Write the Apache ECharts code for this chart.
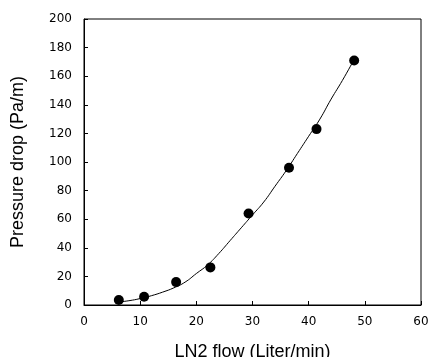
<!DOCTYPE html>
<html>
<head>
<meta charset="utf-8">
<script src="https://cdn.jsdelivr.net/npm/echarts@6/dist/echarts.min.js"></script>
<style>
  html, body { margin: 0; padding: 0; background: #fff; }
  #chart { width: 430px; height: 357px; }
</style>
</head>
<body>
<div id="chart"></div>
<script>
// measured points
var flow = [6.2, 10.7, 16.4, 22.5, 29.3, 36.5, 41.4, 48.1]
var pressure = [3.5, 5.8, 16, 26.3, 64, 96, 123, 171]

// fitted curve
var fitFlow = [6, 8, 10, 12, 14, 16, 18, 20, 22, 24, 26, 28, 30, 32, 34, 36, 38, 40, 42, 44, 46, 48]
var fitPressure = [2, 3, 4.5, 6.5, 9, 12, 16, 22, 28, 36, 45, 54, 63, 72, 83, 94, 106, 118, 130, 144, 157, 171]

var chart = echarts.init(document.getElementById('chart'))

var font = 'Liberation Sans, Arial, sans-serif'
var tickFont = 'DejaVu Sans, sans-serif'

var option = {
  animation: false,
  grid: {
    left: 84,
    top: 19,
    right: 9,
    bottom: 52,
    outerBoundsMode: 'none',
    show: true,
    borderColor: '#000',
    borderWidth: 1,
  },
  xAxis: {
    type: 'value',
    min: 0,
    max: 60,
    interval: 10,
    name: 'LN2 flow (Liter/min)',
    nameLocation: 'middle',
    nameGap: 38,
    nameTextStyle: { color: '#000', fontSize: 18, fontFamily: font },
    axisLine: { lineStyle: { color: '#000', width: 1 } },
    axisTick: { inside: true, length: 4, lineStyle: { color: '#000' } },
    axisLabel: { color: '#000', fontSize: 12, fontFamily: tickFont, margin: 11 },
    splitLine: { show: false },
  },
  yAxis: {
    type: 'value',
    min: 0,
    max: 200,
    interval: 20,
    name: 'Pressure drop (Pa/m)',
    nameLocation: 'middle',
    nameGap: 57,
    nameTextStyle: { color: '#000', fontSize: 18, fontFamily: font },
    axisLine: { show: true, lineStyle: { color: '#000', width: 1 } },
    axisTick: { show: true, inside: true, length: 4, lineStyle: { color: '#000' } },
    axisLabel: { color: '#000', fontSize: 12, fontFamily: tickFont, margin: 12 },
    splitLine: { show: false },
  },
  series: [
    {
      type: 'line',
      data: fitFlow.map(function (x, i) { return [x, fitPressure[i]] }),
      smooth: true,
      showSymbol: false,
      lineStyle: { color: '#000', width: 1 },
      z: 1,
    },
    {
      type: 'scatter',
      data: flow.map(function (x, i) { return [x, pressure[i]] }),
      symbol: 'circle',
      symbolSize: 10,
      itemStyle: { color: '#000', opacity: 1 },
      z: 2,
    },
  ],
}

chart.setOption(option)
</script>
</body>
</html>
